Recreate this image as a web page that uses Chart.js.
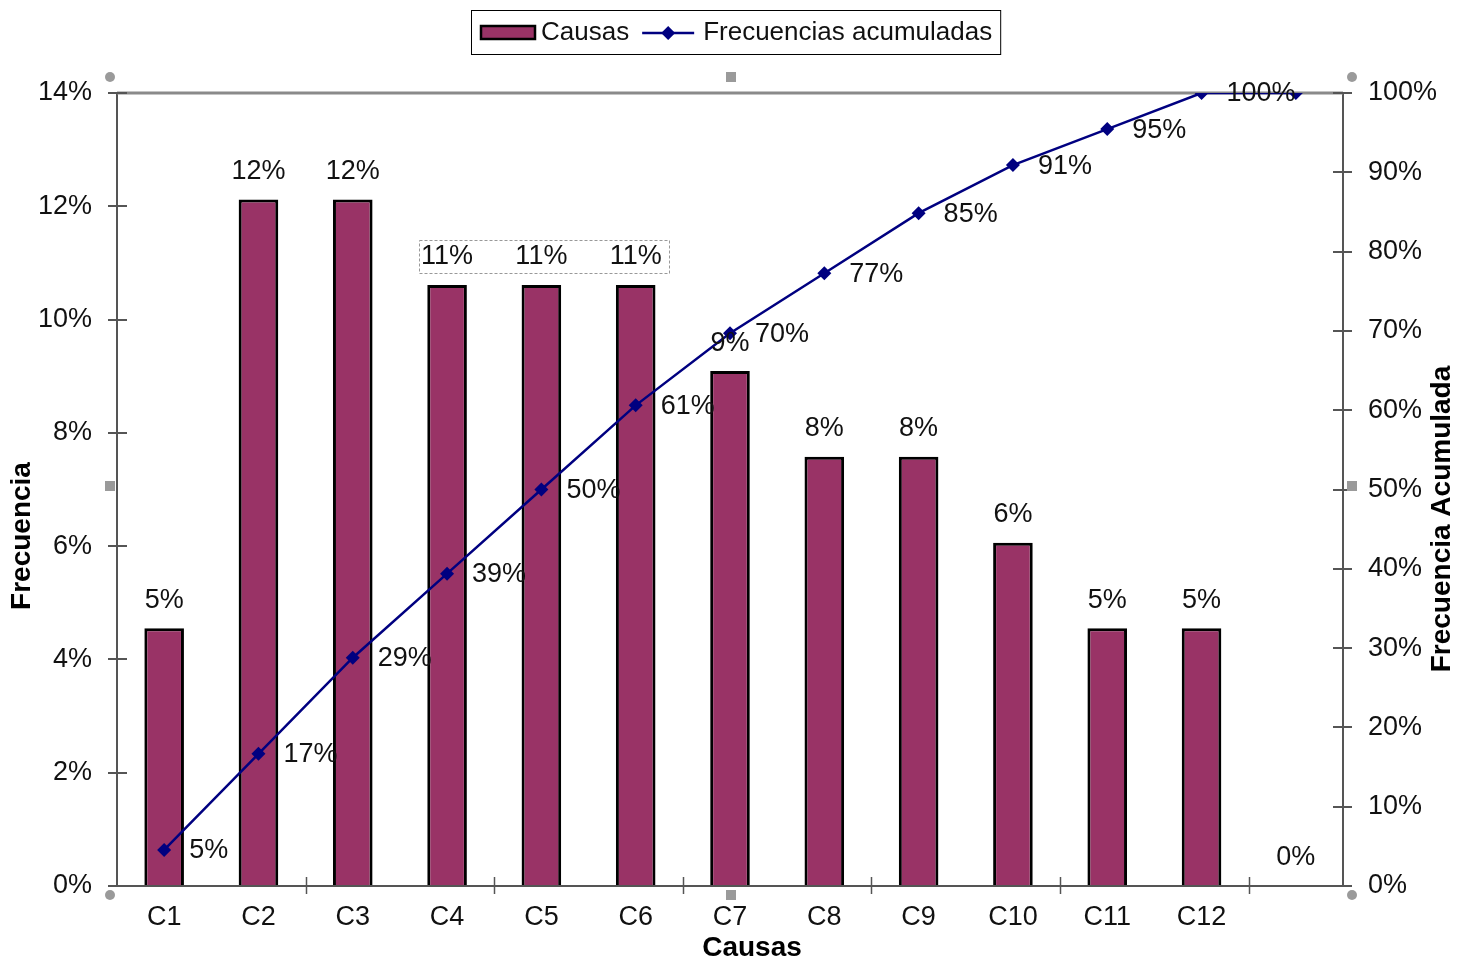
<!DOCTYPE html>
<html>
<head>
<meta charset="utf-8">
<style>
  html, body { margin: 0; padding: 0; background: #fff; }
  #wrap { width: 1460px; height: 964px; position: relative; }
</style>
<script src="https://cdn.jsdelivr.net/npm/chart.js@4/dist/chart.umd.min.js"></script>
</head>
<body>
<div id="wrap"><canvas id="pareto" width="1460" height="964"></canvas></div>
<script>
// categories (the 13th slot is empty in the original)
const causas = ['C1', 'C2', 'C3', 'C4', 'C5', 'C6', 'C7', 'C8', 'C9', 'C10', 'C11', 'C12', ''];
// frequency of each cause, %
const frecuencia = [4.55, 12.12, 12.12, 10.61, 10.61, 10.61, 9.09, 7.58, 7.58, 6.06, 4.55, 4.55, 0];
// cumulative frequency, %
const acumulada = [4.55, 16.67, 28.79, 39.39, 50.0, 60.61, 69.7, 77.27, 84.85, 90.91, 95.45, 100, 100];

const leftTicks = { min: 0, max: 14, step: 2 };
const rightTicks = { min: 0, max: 100, step: 10 };

const FONT = '"Liberation Sans", Arial, sans-serif';
const BAR_COLOR = '#993366';
const LINE_COLOR = '#000080';
const AXIS_COLOR = '#555555';

const pct = v => Math.round(v) + '%';

// labels, axis extras, titles, legend, selection handles
const decor = {
    id: 'decor',
    beforeDatasetsDraw(chart) {
        const ctx = chart.ctx;
        const a = chart.chartArea;
        ctx.save();
        // top border of the plot area
        ctx.strokeStyle = '#8a8a8a';
        ctx.lineWidth = 3;
        ctx.beginPath();
        ctx.moveTo(a.left, a.top);
        ctx.lineTo(a.right, a.top);
        ctx.stroke();
        ctx.restore();
    },
    afterDatasetsDraw(chart) {
        const ctx = chart.ctx;
        const a = chart.chartArea;
        const y = chart.scales.y;
        const y1 = chart.scales.y1;
        ctx.save();

        // inner half of the y tick marks
        ctx.strokeStyle = AXIS_COLOR;
        ctx.lineWidth = 2;
        for (let v = leftTicks.min; v <= leftTicks.max; v += leftTicks.step) {
            const py = Math.round(y.getPixelForValue(v));
            ctx.beginPath(); ctx.moveTo(a.left, py); ctx.lineTo(a.left + 10, py); ctx.stroke();
        }
        for (let v = rightTicks.min; v <= rightTicks.max; v += rightTicks.step) {
            const py = Math.round(y1.getPixelForValue(v));
            ctx.beginPath(); ctx.moveTo(a.right, py); ctx.lineTo(a.right - 10, py); ctx.stroke();
        }
        // x tick marks every second category boundary
        ctx.lineWidth = 1.5;
        const catW = (a.right - a.left) / causas.length;
        for (let k = 2; k < causas.length; k += 2) {
            const px = Math.round(a.left + k * catW) + 0.5;
            ctx.beginPath(); ctx.moveTo(px, a.bottom - 9); ctx.lineTo(px, a.bottom + 8); ctx.stroke();
        }

        // data labels
        ctx.fillStyle = '#111';
        ctx.font = '27px ' + FONT;
        ctx.textBaseline = 'middle';
        const barMeta = chart.getDatasetMeta(1);
        ctx.textAlign = 'center';
        barMeta.data.forEach((bar, i) => {
            ctx.fillText(pct(frecuencia[i]), bar.x, bar.y - 28);
        });
        const lineMeta = chart.getDatasetMeta(0);
        ctx.textAlign = 'left';
        lineMeta.data.forEach((pt, i) => {
            if (i === acumulada.length - 1) return;
            ctx.fillText(pct(acumulada[i]), pt.x + 25, pt.y + 1);
        });

        // dotted selection box around the C4..C6 labels
        const b4 = barMeta.data[3], b6 = barMeta.data[5];
        ctx.strokeStyle = '#999';
        ctx.lineWidth = 1;
        ctx.setLineDash([3, 2]);
        ctx.strokeRect(Math.round(b4.x - 28) + 0.5, Math.round(b4.y - 45) + 0.5,
                       Math.round(b6.x - b4.x + 61), 33);
        ctx.setLineDash([]);

        // axis titles
        ctx.font = 'bold 28px ' + FONT;
        ctx.fillStyle = '#000';
        ctx.textAlign = 'center';
        ctx.textBaseline = 'middle';
        ctx.fillText('Causas', 752, 948);
        ctx.save();
        ctx.translate(22, 536);
        ctx.rotate(-Math.PI / 2);
        ctx.fillText('Frecuencia', 0, 0);
        ctx.restore();
        ctx.save();
        ctx.translate(1442, 519);
        ctx.rotate(-Math.PI / 2);
        ctx.fillText('Frecuencia Acumulada', 0, 0);
        ctx.restore();

        // legend
        ctx.font = '26px ' + FONT;
        const t1 = 'Causas', t2 = 'Frecuencias acumuladas';
        const w1 = ctx.measureText(t1).width, w2 = ctx.measureText(t2).width;
        const inner = 54 + 6 + w1 + 13 + 52 + 9 + w2;
        const boxW = inner + 18;
        const bx = Math.round(736 - boxW / 2), by = 10, bh = 44;
        ctx.fillStyle = '#fff';
        ctx.fillRect(bx, by, boxW, bh);
        ctx.strokeStyle = '#000';
        ctx.lineWidth = 1;
        ctx.strokeRect(bx + 0.5, by + 0.5, boxW, bh);
        let cx = bx + 10;
        const cy = by + bh / 2 + 1;
        ctx.fillStyle = BAR_COLOR;
        ctx.fillRect(cx, cy - 7, 54, 13);
        ctx.lineWidth = 2.5;
        ctx.strokeRect(cx, cy - 7, 54, 13);
        cx += 60;
        ctx.fillStyle = '#111';
        ctx.textAlign = 'left';
        ctx.fillText(t1, cx, cy);
        cx += w1 + 13;
        ctx.strokeStyle = LINE_COLOR;
        ctx.lineWidth = 2.5;
        ctx.beginPath(); ctx.moveTo(cx, cy); ctx.lineTo(cx + 52, cy); ctx.stroke();
        ctx.fillStyle = LINE_COLOR;
        ctx.beginPath();
        ctx.moveTo(cx + 26, cy - 7); ctx.lineTo(cx + 33, cy); ctx.lineTo(cx + 26, cy + 7); ctx.lineTo(cx + 19, cy);
        ctx.closePath(); ctx.fill();
        cx += 61;
        ctx.fillStyle = '#111';
        ctx.fillText(t2, cx, cy);

        // selection handles around the plot area
        ctx.fillStyle = '#9a9a9a';
        const hl = a.left - 7, hr = a.right + 9, ht = a.top - 16, hb = a.bottom + 9;
        [[hl, ht], [hr, ht], [hl, hb], [hr, hb]].forEach(([px, py]) => {
            ctx.beginPath(); ctx.arc(px, py, 5, 0, Math.PI * 2); ctx.fill();
        });
        const mx = (hl + hr) / 2, my = (ht + hb) / 2;
        [[mx, ht], [mx, hb], [hl, my], [hr, my]].forEach(([px, py]) => {
            ctx.fillRect(px - 5, py - 5, 10, 10);
        });
        ctx.restore();
    }
};

new Chart(document.getElementById('pareto'), {
    data: {
        labels: causas,
        datasets: [
            {
                type: 'line',
                label: 'Frecuencias acumuladas',
                data: acumulada,
                yAxisID: 'y1',
                borderColor: LINE_COLOR,
                backgroundColor: LINE_COLOR,
                borderWidth: 2.5,
                tension: 0,
                pointStyle: 'rectRot',
                pointRadius: 7,
                pointBorderWidth: 0,
                order: 1
            },
            {
                type: 'bar',
                label: 'Causas',
                data: frecuencia,
                yAxisID: 'y',
                backgroundColor: BAR_COLOR,
                borderColor: '#000',
                borderWidth: 3,
                barPercentage: 0.42,
                categoryPercentage: 1,
                order: 2
            }
        ]
    },
    options: {
        responsive: false,
        animation: false,
        layout: { padding: { top: 93, left: 0, right: 0, bottom: 0 } },
        plugins: { legend: { display: false }, tooltip: { enabled: false } },
        scales: {
            x: {
                offset: true,
                grid: { display: false, drawTicks: false, tickLength: 0 },
                border: { display: true, color: AXIS_COLOR, width: 2 },
                ticks: { color: '#111', font: { family: FONT, size: 27 }, padding: 15, maxRotation: 0, autoSkip: false },
                afterFit: s => { s.height = 78; }
            },
            y: {
                position: 'left',
                min: leftTicks.min, max: leftTicks.max,
                grid: { drawOnChartArea: false, drawTicks: true, tickLength: 9, color: AXIS_COLOR, lineWidth: 2 },
                border: { display: true, color: AXIS_COLOR, width: 2 },
                ticks: { stepSize: leftTicks.step, color: '#111', font: { family: FONT, size: 27 }, padding: 16, callback: v => v + '%' },
                afterFit: s => { s.width = 117; }
            },
            y1: {
                position: 'right',
                min: rightTicks.min, max: rightTicks.max,
                grid: { drawOnChartArea: false, drawTicks: true, tickLength: 9, color: AXIS_COLOR, lineWidth: 2 },
                border: { display: true, color: AXIS_COLOR, width: 2 },
                ticks: { stepSize: rightTicks.step, color: '#111', font: { family: FONT, size: 27 }, padding: 16, callback: v => v + '%' },
                afterFit: s => { s.width = 117; }
            }
        }
    },
    plugins: [decor]
});
</script>
</body>
</html>
